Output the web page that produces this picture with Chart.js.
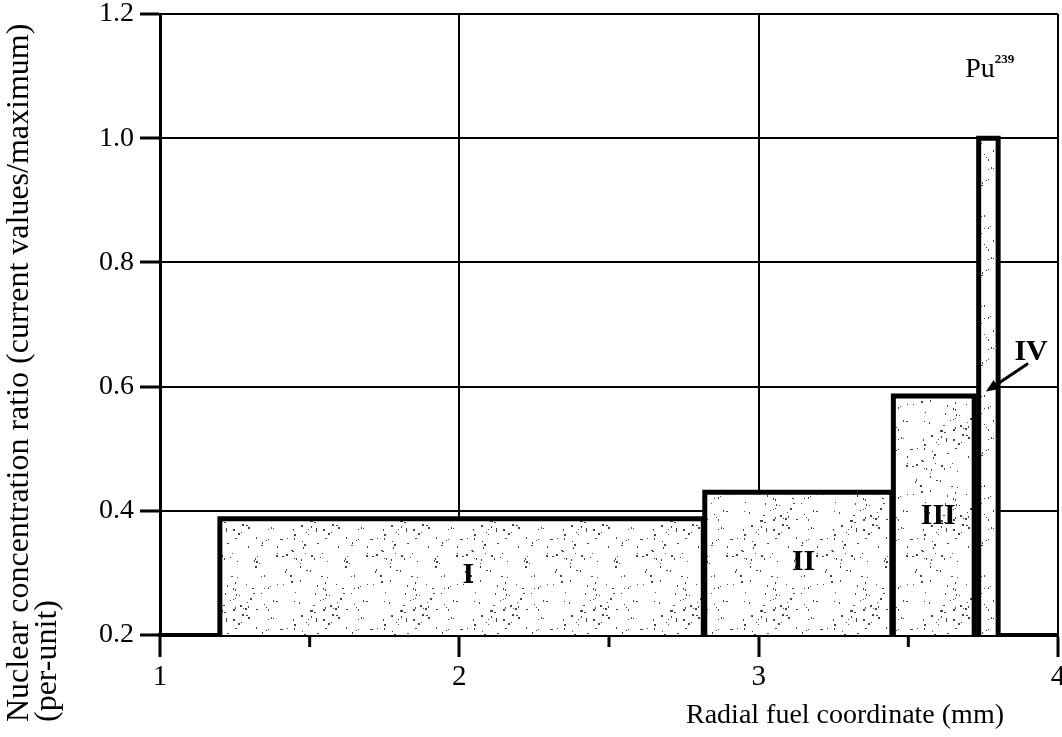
<!DOCTYPE html>
<html>
<head>
<meta charset="utf-8">
<script src="https://cdn.jsdelivr.net/npm/chart.js@4.4.0/dist/chart.umd.min.js"></script>
<style>
  html, body { margin: 0; padding: 0; background: #fff; }
  #wrap { width: 1062px; height: 737px; position: relative; }
</style>
</head>
<body>
<div id="wrap"><canvas id="chart"></canvas></div>
<script>
// Pu239 concentration regions across the fuel radius
const regionNames = ["I", "II", "III", "IV"];
const regionStart = [1.2, 2.82, 3.45, 3.735];
const regionEnd = [2.815, 3.445, 3.72, 3.80];
const regionTop = [0.387, 0.43, 0.585, 1.0];

// where the region names sit (data units)
const nameX = [2.03, 3.15, 3.6, 3.91];
const nameY = [0.296, 0.317, 0.392, 0.656];

// arrow pointing at region IV: [from, to]
const arrowX = [3.90, 3.759];
const arrowY = [0.637, 0.592];

const xTicks = [1, 2, 3, 4];
const xMinorTicks = [1.5, 2.5, 3.5];
const yTicks = [0.2, 0.4, 0.6, 0.8, 1.0, 1.2];

const SERIF = "'Liberation Serif', 'Times New Roman', serif";

// stippled fill; hash-based so it is the same every time
function stipple() {
    const size = 90;
    const c = document.createElement("canvas");
    c.width = size; c.height = size;
    const g = c.getContext("2d");
    g.fillStyle = "#fff";
    g.fillRect(0, 0, size, size);
    g.fillStyle = "#444";
    const h = n => { const v = Math.sin(n * 12.9898 + 78.233) * 43758.5453; return v - Math.floor(v); };
    for (let i = 0; i < 110; i++) {
        const px = Math.floor(h(i) * size);
        const py = Math.floor(h(i + 500) * size);
        const w = h(i + 1000) > 0.6 ? 2 : 1;
        g.fillRect(px, py, w, h(i + 1500) > 0.5 ? 2 : 1);
    }
    return g.createPattern(c, "repeat");
}
const fillPattern = stipple();

const datasets = regionNames.map((name, i) => ({
    label: name,
    data: [
        { x: regionStart[i], y: yTicks[0] },
        { x: regionStart[i], y: regionTop[i] },
        { x: regionEnd[i], y: regionTop[i] },
        { x: regionEnd[i], y: yTicks[0] }
    ],
    showLine: true,
    fill: "start",
    backgroundColor: fillPattern,
    borderColor: "#000",
    borderWidth: 5,
    borderJoinStyle: "miter",
    pointRadius: 0,
    tension: 0
}));

const annotate = {
    id: "annotate",
    afterDatasetsDraw(chart) {
        const { ctx, scales: { x, y } } = chart;
        ctx.save();
        ctx.strokeStyle = "#000";
        ctx.fillStyle = "#000";

        // minor ticks on the x axis
        ctx.lineWidth = 3;
        xMinorTicks.forEach(v => {
            const px = x.getPixelForValue(v);
            ctx.beginPath();
            ctx.moveTo(px, y.bottom);
            ctx.lineTo(px, y.bottom + 12);
            ctx.stroke();
        });

        // region names
        ctx.font = "bold 30px " + SERIF;
        ctx.textAlign = "center";
        ctx.textBaseline = "middle";
        regionNames.forEach((n, i) => {
            ctx.fillText(n, x.getPixelForValue(nameX[i]), y.getPixelForValue(nameY[i]));
        });

        // arrow to IV
        const x0 = x.getPixelForValue(arrowX[0]), y0 = y.getPixelForValue(arrowY[0]);
        const x1 = x.getPixelForValue(arrowX[1]), y1 = y.getPixelForValue(arrowY[1]);
        const ang = Math.atan2(y1 - y0, x1 - x0);
        ctx.lineWidth = 3;
        ctx.beginPath();
        ctx.moveTo(x0, y0);
        ctx.lineTo(x1 - 8 * Math.cos(ang), y1 - 8 * Math.sin(ang));
        ctx.stroke();
        ctx.beginPath();
        ctx.moveTo(x1, y1);
        ctx.lineTo(x1 - 14 * Math.cos(ang - 0.4), y1 - 14 * Math.sin(ang - 0.4));
        ctx.lineTo(x1 - 14 * Math.cos(ang + 0.4), y1 - 14 * Math.sin(ang + 0.4));
        ctx.closePath();
        ctx.fill();

        // Pu239 tag
        const puX = x.getPixelForValue(3.69), puY = y.getPixelForValue(1.099);
        ctx.textAlign = "left";
        ctx.textBaseline = "alphabetic";
        ctx.font = "28px " + SERIF;
        ctx.fillText("Pu", puX, puY);
        const w = ctx.measureText("Pu").width;
        ctx.font = "bold 13px " + SERIF;
        ctx.fillText("239", puX + w, puY - 14);

        // axis titles
        ctx.font = "28px " + SERIF;
        ctx.fillText("Radial fuel coordinate (mm)", 686, 723);

        ctx.font = "32px " + SERIF;
        ctx.save();
        ctx.translate(28, 722);
        ctx.rotate(-Math.PI / 2);
        ctx.fillText("Nuclear concentration ratio (current values/maximum)", 0, 0);
        ctx.restore();
        ctx.save();
        ctx.translate(56, 722);
        ctx.rotate(-Math.PI / 2);
        ctx.fillText("(per-unit)", 0, 0);
        ctx.restore();

        ctx.restore();
    }
};

new Chart(document.getElementById("chart").getContext("2d"), {
    type: "scatter",
    data: { datasets },
    options: {
        responsive: true,
        maintainAspectRatio: false,
        animation: false,
        layout: { padding: { top: 14, right: 4, bottom: 0, left: 0 } },
        plugins: {
            legend: { display: false },
            tooltip: { enabled: false }
        },
        scales: {
            x: {
                type: "linear",
                min: 1,
                max: 4,
                afterBuildTicks: s => { s.ticks = xTicks.map(v => ({ value: v })); },
                afterFit: s => { s.height = 102; s.paddingLeft = 0; s.paddingRight = 0; },
                ticks: {
                    color: "#000",
                    padding: 3,
                    maxRotation: 0,
                    font: { family: SERIF, size: 29 },
                    callback: v => String(v)
                },
                grid: { color: "#000", lineWidth: 2, tickLength: 22, tickWidth: 3, tickColor: "#000" },
                border: { display: true, color: "#000", width: 4 }
            },
            y: {
                min: 0.2,
                max: 1.2,
                afterBuildTicks: s => { s.ticks = yTicks.map(v => ({ value: v })); },
                afterFit: s => { s.width = 160; s.paddingTop = 0; s.paddingBottom = 0; },
                ticks: {
                    color: "#000",
                    padding: 6,
                    font: { family: SERIF, size: 28 },
                    callback: v => Number(v).toFixed(1)
                },
                grid: { color: "#000", lineWidth: 2, tickLength: 20, tickWidth: 3, tickColor: "#000" },
                border: { display: true, color: "#000", width: 3 }
            }
        }
    },
    plugins: [annotate]
});
</script>
</body>
</html>
